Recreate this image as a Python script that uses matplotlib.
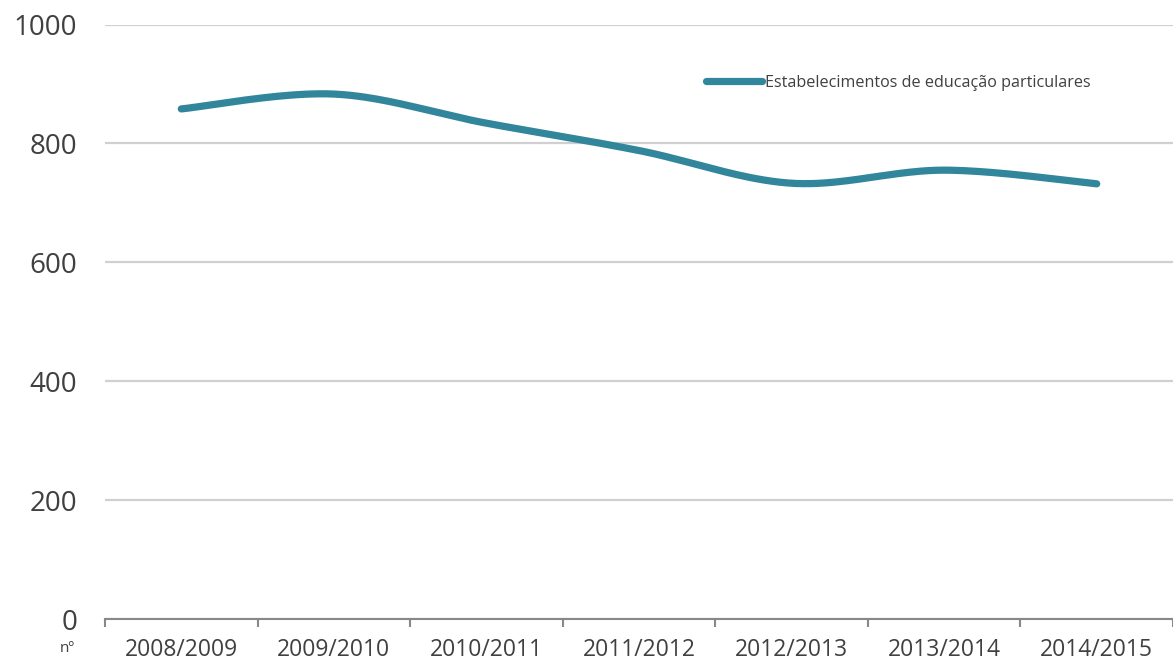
import numpy as np
import matplotlib.pyplot as plt

# school years and number of private schools
years = ["2008/2009", "2009/2010", "2010/2011", "2011/2012",
         "2012/2013", "2013/2014", "2014/2015"]
schools = [858, 883, 834, 788, 733, 755, 732]

yticks = [0, 200, 400, 600, 800, 1000]
series_name = "Estabelecimentos de educação particulares"

line_color = "#31869B"
text_color = "#404040"


def smooth(xs, ys, n=40):
    # excel-like smoothed line: bezier segments with catmull-rom handles
    xs = np.asarray(xs, float)
    ys = np.asarray(ys, float)
    px = np.concatenate([[xs[0]], xs, [xs[-1]]])
    py = np.concatenate([[ys[0]], ys, [ys[-1]]])
    out_x, out_y = [], []
    t = np.linspace(0, 1, n)
    for i in range(1, len(px) - 2):
        p0 = np.array([px[i], py[i]])
        p3 = np.array([px[i + 1], py[i + 1]])
        c1 = p0 + (np.array([px[i + 1], py[i + 1]]) - np.array([px[i - 1], py[i - 1]])) / 6
        c2 = p3 - (np.array([px[i + 2], py[i + 2]]) - np.array([px[i], py[i]])) / 6
        b = ((1 - t) ** 3)[:, None] * p0 + (3 * (1 - t) ** 2 * t)[:, None] * c1 \
            + (3 * (1 - t) * t ** 2)[:, None] * c2 + (t ** 3)[:, None] * p3
        out_x.extend(b[:, 0])
        out_y.extend(b[:, 1])
    return out_x, out_y


plt.rcParams['font.family'] = ['Open Sans', 'DejaVu Sans']

fig = plt.figure(figsize=(11.73, 6.65), dpi=100)
ax = fig.add_axes([105 / 1173, 46 / 665, 1 - 105 / 1173, 594.5 / 665])

x = np.arange(len(years))
sx, sy = smooth(x, schools)
ax.plot(sx, sy, color=line_color, lw=5.2, solid_capstyle='round', label=series_name)

ax.set_ylim(0, 1000)
ax.set_xlim(-0.5, 6.456)
ax.set_yticks(yticks)
ax.set_yticklabels([str(v) for v in yticks], fontsize=20, color=text_color)
ax.tick_params(axis='y', length=0, pad=20)
ax.yaxis.grid(True, color="#D0D0D0", lw=1.6)
ax.set_axisbelow(True)

ax.set_xticks(x)
ax.set_xticklabels(years, fontsize=16.5, color=text_color)
ax.tick_params(axis='x', which='major', length=0, pad=14)
ax.set_xticks(np.arange(-0.5, 7, 1), minor=True)
ax.tick_params(axis='x', which='minor', length=6, width=1.5, color="#888888")

for s in ["left", "top", "right"]:
    ax.spines[s].set_visible(False)
ax.spines["bottom"].set_color("#888888")
ax.spines["bottom"].set_linewidth(1.5)

fig.text(67 / 1173, 1 - 648 / 665, "nº", fontsize=11, color=text_color,
         ha='center', va='center')

ax.legend(loc='center left', bbox_to_anchor=(706 / 1173, 1 - 83 / 665),
          bbox_transform=fig.transFigure, frameon=False, borderpad=0,
          borderaxespad=0, handlelength=3.5, handletextpad=0.15,
          prop={'size': 11.6}, labelcolor=text_color)

fig.savefig("out.png", dpi=100)
